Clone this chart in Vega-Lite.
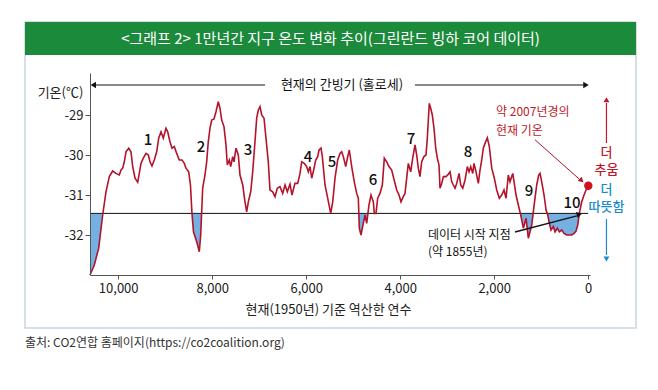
{
  "$schema": "https://vega.github.io/schema/vega-lite/v6.json",
  "width": 500,
  "height": 202,
  "autosize": {"type": "none"},
  "padding": {"left": 90, "top": 73, "right": 68, "bottom": 115},
  "background": "white",
  "config": {
    "view": {"stroke": null},
    "font": "Noto Sans CJK KR",
    "axis": {
      "labelFont": "Noto Sans CJK KR",
      "titleFont": "Noto Sans CJK KR",
      "labelFontSize": 13,
      "labelColor": "#222222",
      "titleFontSize": 13,
      "titleFontWeight": "normal",
      "titleColor": "#222222",
      "domainColor": "#555555",
      "tickColor": "#555555",
      "grid": false
    }
  },
  "datasets": {
    "series": [
      {"year": 10600, "temp": -33.0}, {"year": 10508, "temp": -32.75}, {"year": 10415, "temp": -32.33},
      {"year": 10330, "temp": -31.5}, {"year": 10260, "temp": -30.92}, {"year": 10189, "temp": -30.54},
      {"year": 10117, "temp": -30.4}, {"year": 10047, "temp": -30.46}, {"year": 9976, "temp": -30.5},
      {"year": 9940, "temp": -30.375}, {"year": 9904, "temp": -30.33}, {"year": 9870, "temp": -30.17},
      {"year": 9834, "temp": -29.92}, {"year": 9776, "temp": -29.83}, {"year": 9728, "temp": -29.92},
      {"year": 9691, "temp": -30.29}, {"year": 9642, "temp": -30.58}, {"year": 9585, "temp": -30.68},
      {"year": 9551, "temp": -30.46}, {"year": 9515, "temp": -30.21}, {"year": 9466, "temp": -30.08},
      {"year": 9408, "temp": -29.96}, {"year": 9359, "temp": -30.0}, {"year": 9323, "temp": -30.17},
      {"year": 9281, "temp": -30.275}, {"year": 9232, "temp": -30.125}, {"year": 9181, "temp": -29.92},
      {"year": 9138, "temp": -29.58}, {"year": 9089, "temp": -29.42}, {"year": 9040, "temp": -29.58},
      {"year": 8983, "temp": -29.33}, {"year": 8947, "temp": -29.42}, {"year": 8898, "temp": -29.67},
      {"year": 8855, "temp": -29.83}, {"year": 8806, "temp": -29.79}, {"year": 8755, "temp": -29.96},
      {"year": 8700, "temp": -30.125}, {"year": 8642, "temp": -30.125}, {"year": 8593, "temp": -30.21},
      {"year": 8557, "temp": -30.33}, {"year": 8500, "temp": -30.42}, {"year": 8462, "temp": -30.75},
      {"year": 8430, "temp": -31.46}, {"year": 8398, "temp": -31.92}, {"year": 8329, "temp": -32.17},
      {"year": 8274, "temp": -32.42}, {"year": 8244, "temp": -32.0}, {"year": 8202, "temp": -30.83},
      {"year": 8153, "temp": -30.5}, {"year": 8117, "temp": -30.17}, {"year": 8083, "temp": -29.67},
      {"year": 8046, "temp": -29.33}, {"year": 8010, "temp": -29.125}, {"year": 7961, "temp": -29.1},
      {"year": 7919, "temp": -28.92}, {"year": 7870, "temp": -28.67}, {"year": 7834, "temp": -28.83},
      {"year": 7798, "temp": -29.125}, {"year": 7749, "temp": -29.29}, {"year": 7706, "temp": -29.75},
      {"year": 7678, "temp": -30.25}, {"year": 7636, "temp": -30.125}, {"year": 7606, "temp": -30.29},
      {"year": 7563, "temp": -30.04}, {"year": 7536, "temp": -30.17}, {"year": 7493, "temp": -29.83},
      {"year": 7444, "temp": -30.0}, {"year": 7408, "temp": -30.5}, {"year": 7350, "temp": -30.75},
      {"year": 7302, "temp": -31.17}, {"year": 7266, "temp": -31.42}, {"year": 7231, "temp": -31.17},
      {"year": 7180, "temp": -30.92}, {"year": 7138, "temp": -30.42}, {"year": 7089, "temp": -29.67},
      {"year": 7053, "temp": -29.08}, {"year": 7018, "temp": -28.875}, {"year": 6982, "temp": -28.79},
      {"year": 6946, "temp": -29.0}, {"year": 6897, "temp": -29.08}, {"year": 6855, "temp": -29.58},
      {"year": 6806, "temp": -30.17}, {"year": 6770, "temp": -30.875}, {"year": 6712, "temp": -30.92},
      {"year": 6663, "temp": -31.04}, {"year": 6614, "temp": -30.83}, {"year": 6557, "temp": -30.79},
      {"year": 6499, "temp": -30.96}, {"year": 6450, "temp": -30.75}, {"year": 6401, "temp": -30.92},
      {"year": 6344, "temp": -30.73}, {"year": 6302, "temp": -31.0}, {"year": 6238, "temp": -30.71},
      {"year": 6180, "temp": -30.71}, {"year": 6131, "temp": -30.46}, {"year": 6095, "temp": -30.17},
      {"year": 6040, "temp": -30.21}, {"year": 5989, "temp": -30.29}, {"year": 5954, "temp": -30.42},
      {"year": 5918, "temp": -30.29}, {"year": 5882, "temp": -30.58}, {"year": 5848, "temp": -30.42},
      {"year": 5797, "temp": -30.125}, {"year": 5754, "temp": -30.04}, {"year": 5726, "temp": -29.875},
      {"year": 5684, "temp": -29.83}, {"year": 5656, "temp": -30.04}, {"year": 5599, "temp": -30.75},
      {"year": 5542, "temp": -31.08}, {"year": 5478, "temp": -31.46}, {"year": 5435, "temp": -31.17},
      {"year": 5386, "temp": -30.58}, {"year": 5329, "temp": -30.125}, {"year": 5280, "temp": -29.96},
      {"year": 5243, "temp": -29.92}, {"year": 5209, "temp": -30.04}, {"year": 5158, "temp": -30.29},
      {"year": 5116, "temp": -30.04}, {"year": 5082, "temp": -29.875}, {"year": 5031, "temp": -30.29},
      {"year": 4976, "temp": -30.67}, {"year": 4925, "temp": -30.96}, {"year": 4890, "temp": -31.08},
      {"year": 4869, "temp": -31.83}, {"year": 4833, "temp": -32.0}, {"year": 4784, "temp": -31.71},
      {"year": 4748, "temp": -31.5}, {"year": 4712, "temp": -31.71}, {"year": 4663, "temp": -31.25},
      {"year": 4620, "temp": -31.0}, {"year": 4571, "temp": -31.17}, {"year": 4550, "temp": -31.46},
      {"year": 4514, "temp": -31.46}, {"year": 4478, "temp": -31.08}, {"year": 4429, "temp": -30.96},
      {"year": 4379, "temp": -30.75}, {"year": 4337, "temp": -30.08}, {"year": 4286, "temp": -30.17},
      {"year": 4237, "temp": -30.29}, {"year": 4180, "temp": -30.375}, {"year": 4137, "temp": -30.58},
      {"year": 4073, "temp": -30.875}, {"year": 4024, "temp": -31.0}, {"year": 3982, "temp": -31.17},
      {"year": 3933, "temp": -31.04}, {"year": 3897, "temp": -30.96}, {"year": 3861, "temp": -30.58},
      {"year": 3826, "temp": -30.21}, {"year": 3775, "temp": -30.42}, {"year": 3733, "temp": -30.08},
      {"year": 3684, "temp": -29.75}, {"year": 3648, "temp": -30.0}, {"year": 3614, "temp": -30.33},
      {"year": 3578, "temp": -30.54}, {"year": 3542, "temp": -30.17}, {"year": 3493, "temp": -30.04},
      {"year": 3450, "temp": -30.0}, {"year": 3422, "temp": -29.58}, {"year": 3380, "temp": -28.71},
      {"year": 3350, "temp": -28.83}, {"year": 3316, "temp": -29.0}, {"year": 3280, "temp": -29.33},
      {"year": 3243, "temp": -29.83}, {"year": 3209, "temp": -30.08}, {"year": 3173, "temp": -30.25},
      {"year": 3152, "temp": -30.83}, {"year": 3116, "temp": -30.71}, {"year": 3080, "temp": -30.54},
      {"year": 3023, "temp": -30.54}, {"year": 2975, "temp": -30.48}, {"year": 2938, "temp": -30.42},
      {"year": 2902, "temp": -30.67}, {"year": 2868, "temp": -30.75}, {"year": 2832, "temp": -30.83},
      {"year": 2796, "temp": -30.71}, {"year": 2747, "temp": -30.46}, {"year": 2711, "temp": -30.75},
      {"year": 2668, "temp": -30.83}, {"year": 2619, "temp": -30.625}, {"year": 2570, "temp": -30.29},
      {"year": 2534, "temp": -30.42}, {"year": 2498, "temp": -30.29}, {"year": 2455, "temp": -30.46},
      {"year": 2428, "temp": -30.21}, {"year": 2385, "temp": -30.42}, {"year": 2336, "temp": -30.71},
      {"year": 2300, "temp": -30.375}, {"year": 2264, "temp": -30.125}, {"year": 2230, "temp": -29.83},
      {"year": 2194, "temp": -29.71}, {"year": 2145, "temp": -29.57}, {"year": 2102, "temp": -29.79},
      {"year": 2051, "temp": -30.33}, {"year": 1996, "temp": -30.58}, {"year": 1945, "temp": -30.875},
      {"year": 1890, "temp": -31.08}, {"year": 1839, "temp": -31.0}, {"year": 1790, "temp": -30.875},
      {"year": 1747, "temp": -31.08}, {"year": 1698, "temp": -30.5}, {"year": 1662, "temp": -30.67},
      {"year": 1604, "temp": -30.46}, {"year": 1576, "temp": -30.67}, {"year": 1534, "temp": -31.0},
      {"year": 1485, "temp": -31.25}, {"year": 1434, "temp": -31.5}, {"year": 1378, "temp": -31.83},
      {"year": 1321, "temp": -31.58}, {"year": 1272, "temp": -32.08}, {"year": 1236, "temp": -31.92},
      {"year": 1200, "temp": -31.75}, {"year": 1166, "temp": -31.42}, {"year": 1130, "temp": -31.08},
      {"year": 1094, "temp": -30.75}, {"year": 1051, "temp": -30.5}, {"year": 1023, "temp": -30.46},
      {"year": 987, "temp": -30.67}, {"year": 938, "temp": -31.0}, {"year": 895, "temp": -31.375},
      {"year": 859, "temp": -31.5}, {"year": 825, "temp": -31.71}, {"year": 789, "temp": -31.875},
      {"year": 740, "temp": -31.79}, {"year": 704, "temp": -31.92}, {"year": 655, "temp": -31.83},
      {"year": 612, "temp": -31.92}, {"year": 561, "temp": -31.875}, {"year": 512, "temp": -31.96},
      {"year": 455, "temp": -32.0}, {"year": 400, "temp": -32.0}, {"year": 348, "temp": -32.0},
      {"year": 300, "temp": -31.96}, {"year": 257, "temp": -31.9}, {"year": 221, "temp": -31.75},
      {"year": 187, "temp": -31.46}, {"year": 136, "temp": -31.17}, {"year": 87, "temp": -31.0},
      {"year": 45, "temp": -30.875}, {"year": -4, "temp": -30.77}
    ],
    "numbers": [
      {"year": 9366, "temp": -29.625, "text": "1"},
      {"year": 8238, "temp": -29.8, "text": "2"},
      {"year": 7238, "temp": -29.875, "text": "3"},
      {"year": 5961, "temp": -30.05, "text": "4"},
      {"year": 5450, "temp": -30.175, "text": "5"},
      {"year": 4578, "temp": -30.625, "text": "6"},
      {"year": 3769, "temp": -29.6, "text": "7"},
      {"year": 2556, "temp": -29.925, "text": "8"},
      {"year": 1258, "temp": -30.9, "text": "9"},
      {"year": 343, "temp": -31.2, "text": "10"}
    ]
  },
  "layer": [
    {
      "data": {"values": [{"x1": 11983, "x2": -1019, "y1": -26.675, "y2": -34.325}]},
      "mark": {"type": "rect", "fill": "white", "stroke": "#c8d7de", "strokeWidth": 1.5, "clip": false},
      "encoding": {
        "x": {"field": "x1", "type": "quantitative", "scale": {"domain": [-40, 10600], "reverse": true, "nice": false, "zero": false}},
        "x2": {"field": "x2"},
        "y": {"field": "y1", "type": "quantitative", "scale": {"domain": [-33, -27.95], "nice": false, "zero": false}},
        "y2": {"field": "y2"}
      }
    },
    {
      "data": {"values": [{"x1": 11983, "x2": -1019, "y1": -26.675, "y2": -27.5}]},
      "mark": {"type": "rect", "fill": "#1b8a3b", "clip": false},
      "encoding": {
        "x": {"field": "x1", "type": "quantitative"},
        "x2": {"field": "x2"},
        "y": {"field": "y1", "type": "quantitative"},
        "y2": {"field": "y2"}
      }
    },
    {
      "data": {"values": [{"year": 5482, "temp": -27.09, "text": "<그래프 2> 1만년간 지구 온도 변화 추이(그린란드 빙하 코어 데이터)"}]},
      "mark": {"type": "text", "color": "white", "fontSize": 15, "font": "Noto Sans CJK KR", "fontWeight": "normal", "align": "center", "baseline": "middle", "clip": false},
      "encoding": {
        "x": {"field": "year", "type": "quantitative"},
        "y": {"field": "temp", "type": "quantitative"},
        "text": {"field": "text"}
      }
    },
    {
      "data": {"values": [{"year": 11983, "temp": -34.7, "text": "출처: CO2연합 홈페이지(https://co2coalition.org)"}]},
      "mark": {"type": "text", "color": "#333333", "fontSize": 12, "font": "Noto Sans CJK KR", "align": "left", "baseline": "middle", "clip": false},
      "encoding": {
        "x": {"field": "year", "type": "quantitative"},
        "y": {"field": "temp", "type": "quantitative"},
        "text": {"field": "text"}
      }
    },
    {
      "data": {"name": "series"},
      "mark": {"type": "area", "color": "#74b1e2", "opacity": 1},
      "encoding": {
        "x": {"field": "year", "type": "quantitative"},
        "y": {"field": "temp", "type": "quantitative"},
        "y2": {"datum": -31.46}
      }
    },
    {
      "data": {"values": [{"x1": 10600, "x2": -40, "y1": -31.46, "y2": -27.95}]},
      "mark": {"type": "rect", "fill": "white"},
      "encoding": {
        "x": {"field": "x1", "type": "quantitative"},
        "x2": {"field": "x2"},
        "y": {"field": "y1", "type": "quantitative"},
        "y2": {"field": "y2"}
      }
    },
    {
      "data": {"values": [{"x1": 10600, "x2": 0, "y": -31.46}]},
      "mark": {"type": "rule", "color": "#111111", "strokeWidth": 1},
      "encoding": {
        "x": {"field": "x1", "type": "quantitative"},
        "x2": {"field": "x2"},
        "y": {"field": "y", "type": "quantitative"}
      }
    },
    {
      "data": {"name": "series"},
      "mark": {"type": "line", "color": "#b3132b", "strokeWidth": 1.6},
      "encoding": {
        "x": {
          "field": "year", "type": "quantitative",
          "scale": {"domain": [-40, 10600], "reverse": true, "nice": false, "zero": false},
          "axis": {"zindex": 2, "values": [10000, 8000, 6000, 4000, 2000, 0], "labelExpr": "format(datum.value, ',')", "title": "현재(1950년) 기준 역산한 연수", "tickSize": 4, "labelPadding": 3, "titleX": 238, "titleY": 34, "titleBaseline": "middle", "titleAlign": "center"}
        },
        "y": {
          "field": "temp", "type": "quantitative",
          "scale": {"domain": [-33, -27.95], "nice": false, "zero": false},
          "axis": {"zindex": 2, "values": [-32, -31, -30, -29], "labelExpr": "'' + datum.value", "title": "기온(℃)", "tickSize": 5, "labelPadding": 2, "titleAngle": 0, "titleX": -30, "titleY": 19, "titleAlign": "center", "titleBaseline": "middle"}
        }
      }
    },
    {
      "data": {"values": [{"year": -4, "temp": -30.77}]},
      "mark": {"type": "point", "filled": true, "color": "#d0101e", "size": 70, "opacity": 1, "clip": false},
      "encoding": {
        "x": {"field": "year", "type": "quantitative"},
        "y": {"field": "temp", "type": "quantitative"}
      }
    },
    {
      "data": {"name": "numbers"},
      "mark": {"type": "text", "color": "#111111", "fontSize": 15, "font": "Noto Sans CJK KR", "fontWeight": 500, "align": "center", "baseline": "middle"},
      "encoding": {
        "x": {"field": "year", "type": "quantitative"},
        "y": {"field": "temp", "type": "quantitative"},
        "text": {"field": "text"}
      }
    },
    {
      "data": {"values": [{"x1": 6876, "x2": 10520, "y": -28.25}, {"x1": 3684, "x2": 60, "y": -28.25}]},
      "mark": {"type": "rule", "color": "#111111", "strokeWidth": 1, "clip": false},
      "encoding": {
        "x": {"field": "x1", "type": "quantitative"},
        "x2": {"field": "x2"},
        "y": {"field": "y", "type": "quantitative"}
      }
    },
    {
      "data": {"values": [{"year": 10530, "temp": -28.25}]},
      "mark": {"type": "point", "shape": "triangle-left", "filled": true, "color": "#111111", "size": 40, "opacity": 1, "clip": false},
      "encoding": {
        "x": {"field": "year", "type": "quantitative"},
        "y": {"field": "temp", "type": "quantitative"}
      }
    },
    {
      "data": {"values": [{"year": 45, "temp": -28.25}]},
      "mark": {"type": "point", "shape": "triangle-right", "filled": true, "color": "#111111", "size": 40, "opacity": 1, "clip": false},
      "encoding": {
        "x": {"field": "year", "type": "quantitative"},
        "y": {"field": "temp", "type": "quantitative"}
      }
    },
    {
      "data": {"values": [{"year": 5237, "temp": -28.25, "text": "현재의 간빙기 (홀로세)"}]},
      "mark": {"type": "text", "color": "#111111", "fontSize": 13, "font": "Noto Sans CJK KR", "align": "center", "baseline": "middle"},
      "encoding": {
        "x": {"field": "year", "type": "quantitative"},
        "y": {"field": "temp", "type": "quantitative"},
        "text": {"field": "text"}
      }
    },
    {
      "data": {"values": [{"year": 1960, "temp": -28.93, "text": "약 2007년경의"}, {"year": 1960, "temp": -29.4, "text": "현재 기온"}]},
      "mark": {"type": "text", "color": "#c0182a", "fontSize": 12, "font": "Noto Sans CJK KR", "align": "left", "baseline": "middle"},
      "encoding": {
        "x": {"field": "year", "type": "quantitative"},
        "y": {"field": "temp", "type": "quantitative"},
        "text": {"field": "text"}
      }
    },
    {
      "data": {"values": [{"x1": 1130, "x2": 190, "y1": -29.62, "y2": -30.6}]},
      "mark": {"type": "rule", "color": "#b3132b", "strokeWidth": 1},
      "encoding": {
        "x": {"field": "x1", "type": "quantitative"},
        "x2": {"field": "x2"},
        "y": {"field": "y1", "type": "quantitative"},
        "y2": {"field": "y2"}
      }
    },
    {
      "data": {"values": [{"year": 140, "temp": -30.64}]},
      "mark": {"type": "point", "shape": "triangle-right", "angle": 42.5, "filled": true, "color": "#b3132b", "size": 35, "opacity": 1},
      "encoding": {
        "x": {"field": "year", "type": "quantitative"},
        "y": {"field": "temp", "type": "quantitative"}
      }
    },
    {
      "data": {"values": [{"year": 3407, "temp": -32.0, "text": "데이터 시작 지점"}, {"year": 3407, "temp": -32.42, "text": "(약 1855년)"}]},
      "mark": {"type": "text", "color": "#111111", "fontSize": 12, "font": "Noto Sans CJK KR", "align": "left", "baseline": "middle"},
      "encoding": {
        "x": {"field": "year", "type": "quantitative"},
        "y": {"field": "temp", "type": "quantitative"},
        "text": {"field": "text"}
      }
    },
    {
      "data": {"values": [{"x1": 1556, "x2": 240, "y1": -31.925, "y2": -31.52}]},
      "mark": {"type": "rule", "color": "#111111", "strokeWidth": 1.3},
      "encoding": {
        "x": {"field": "x1", "type": "quantitative"},
        "x2": {"field": "x2"},
        "y": {"field": "y1", "type": "quantitative"},
        "y2": {"field": "y2"}
      }
    },
    {
      "data": {"values": [{"year": 185, "temp": -31.48}]},
      "mark": {"type": "point", "shape": "triangle-right", "angle": -15.5, "filled": true, "color": "#111111", "size": 40, "opacity": 1},
      "encoding": {
        "x": {"field": "year", "type": "quantitative"},
        "y": {"field": "temp", "type": "quantitative"}
      }
    },
    {
      "data": {"values": [{"year": -390, "temp": -29.95, "text": "더"}, {"year": -390, "temp": -30.38, "text": "추움"}]},
      "mark": {"type": "text", "color": "#c0182a", "fontSize": 13, "font": "Noto Sans CJK KR", "fontWeight": 500, "align": "center", "baseline": "middle", "clip": false},
      "encoding": {
        "x": {"field": "year", "type": "quantitative"},
        "y": {"field": "temp", "type": "quantitative"},
        "text": {"field": "text"}
      }
    },
    {
      "data": {"values": [{"year": -390, "temp": -30.87, "text": "더"}, {"year": -390, "temp": -31.3, "text": "따뜻함"}]},
      "mark": {"type": "text", "color": "#1a8ccc", "fontSize": 13, "font": "Noto Sans CJK KR", "fontWeight": 500, "align": "center", "baseline": "middle", "clip": false},
      "encoding": {
        "x": {"field": "year", "type": "quantitative"},
        "y": {"field": "temp", "type": "quantitative"},
        "text": {"field": "text"}
      }
    },
    {
      "data": {"values": [{"x": -390, "y1": -29.7, "y2": -28.7}]},
      "mark": {"type": "rule", "color": "#c0182a", "strokeWidth": 1.2, "clip": false},
      "encoding": {
        "x": {"field": "x", "type": "quantitative"},
        "y": {"field": "y1", "type": "quantitative"},
        "y2": {"field": "y2"}
      }
    },
    {
      "data": {"values": [{"year": -390, "temp": -28.62}]},
      "mark": {"type": "point", "shape": "triangle-up", "filled": true, "color": "#c0182a", "size": 35, "opacity": 1, "clip": false},
      "encoding": {
        "x": {"field": "year", "type": "quantitative"},
        "y": {"field": "temp", "type": "quantitative"}
      }
    },
    {
      "data": {"values": [{"x": -390, "y1": -31.6, "y2": -32.5}]},
      "mark": {"type": "rule", "color": "#1a8ccc", "strokeWidth": 1.2, "clip": false},
      "encoding": {
        "x": {"field": "x", "type": "quantitative"},
        "y": {"field": "y1", "type": "quantitative"},
        "y2": {"field": "y2"}
      }
    },
    {
      "data": {"values": [{"year": -390, "temp": -32.6}]},
      "mark": {"type": "point", "shape": "triangle-down", "filled": true, "color": "#1a8ccc", "size": 35, "opacity": 1, "clip": false},
      "encoding": {
        "x": {"field": "year", "type": "quantitative"},
        "y": {"field": "temp", "type": "quantitative"}
      }
    }
  ]
}
